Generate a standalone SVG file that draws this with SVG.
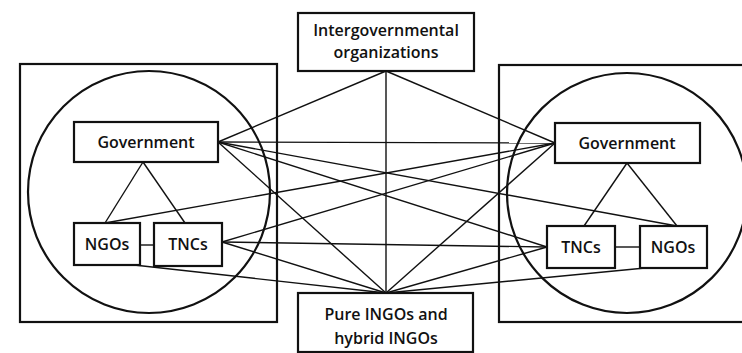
<svg xmlns="http://www.w3.org/2000/svg" width="742" height="353" viewBox="0 0 742 353">
<style>
.frame{fill:none;stroke:#111;stroke-width:2.2}
.box{fill:#fff;stroke:#111;stroke-width:2.2}
.circ{fill:none;stroke:#111;stroke-width:2.2}
.ln{fill:none;stroke:#111;stroke-width:1.4}
text{font-family:"Open Sans","Noto Sans",sans-serif;font-size:16px;font-weight:600;fill:#111;text-anchor:middle}
</style>
<rect width="742" height="353" fill="#fff"/>
<g id="left-country">
<rect class="frame" x="20" y="64" width="257" height="258"/>
<circle class="circ" cx="149" cy="192" r="121"/>
</g>
<g id="right-country">
<rect class="frame" x="499" y="65" width="250" height="257"/>
<circle class="circ" cx="627" cy="193" r="120"/>
</g>
<g id="connectors">
<line class="ln" x1="143" y1="162" x2="105" y2="223"/>
<line class="ln" x1="143" y1="162" x2="185" y2="223"/>
<line class="ln" x1="140" y1="245" x2="154" y2="245"/>
<line class="ln" x1="627" y1="163" x2="584" y2="226"/>
<line class="ln" x1="627" y1="163" x2="677" y2="226"/>
<line class="ln" x1="615" y1="247" x2="640" y2="247"/>
<line class="ln" x1="386" y1="71" x2="218" y2="142"/>
<line class="ln" x1="386" y1="71" x2="555" y2="143"/>
<line class="ln" x1="386" y1="71" x2="386" y2="293"/>
<line class="ln" x1="218" y1="142" x2="555" y2="143"/>
<line class="ln" x1="218" y1="142" x2="677" y2="226"/>
<line class="ln" x1="218" y1="142" x2="547" y2="247"/>
<line class="ln" x1="218" y1="142" x2="386" y2="293"/>
<line class="ln" x1="105" y1="223" x2="555" y2="143"/>
<line class="ln" x1="222" y1="242" x2="555" y2="143"/>
<line class="ln" x1="222" y1="242" x2="547" y2="247"/>
<line class="ln" x1="222" y1="242" x2="386" y2="293"/>
<line class="ln" x1="134" y1="265" x2="386" y2="293"/>
<line class="ln" x1="555" y1="143" x2="386" y2="293"/>
<line class="ln" x1="547" y1="247" x2="386" y2="293"/>
<line class="ln" x1="645" y1="268" x2="386" y2="293"/>
</g>
<g id="igo">
<rect class="box" x="298" y="13" width="176" height="58"/>
<text x="386" y="36">Intergovernmental</text>
<text x="386" y="58">organizations</text>
</g>
<g id="ingo">
<rect class="box" x="298" y="293" width="175" height="59"/>
<text x="386" y="320">Pure INGOs and</text>
<text x="386" y="344">hybrid INGOs</text>
</g>
<g id="left-government">
<rect class="box" x="74" y="122" width="144" height="40"/>
<text x="146" y="148">Government</text>
</g>
<g id="left-ngos">
<rect class="box" x="74" y="223" width="66" height="42"/>
<text x="107" y="250">NGOs</text>
</g>
<g id="left-tncs">
<rect class="box" x="154" y="223" width="68" height="43"/>
<text x="188" y="250">TNCs</text>
</g>
<g id="right-government">
<rect class="box" x="555" y="123" width="145" height="40"/>
<text x="627" y="149">Government</text>
</g>
<g id="right-tncs">
<rect class="box" x="547" y="226" width="68" height="42"/>
<text x="581" y="253">TNCs</text>
</g>
<g id="right-ngos">
<rect class="box" x="640" y="226" width="67" height="42"/>
<text x="673" y="253">NGOs</text>
</g>
</svg>
